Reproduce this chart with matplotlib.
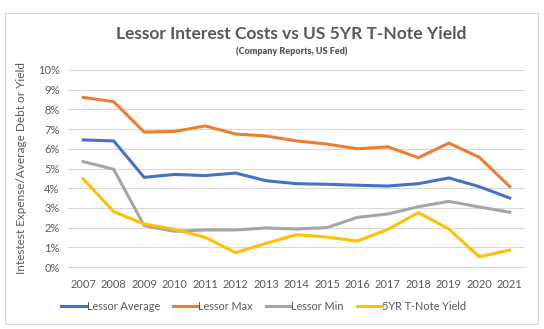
import matplotlib.pyplot as plt
from matplotlib.patches import Rectangle
from matplotlib.ticker import PercentFormatter

years = list(range(2007, 2022))
lessor_avg = [6.45, 6.40, 4.55, 4.70, 4.64, 4.77, 4.38, 4.23, 4.20, 4.15, 4.11, 4.23, 4.52, 4.08, 3.50]
lessor_max = [8.61, 8.39, 6.85, 6.88, 7.16, 6.75, 6.65, 6.40, 6.24, 6.00, 6.10, 5.55, 6.29, 5.57, 4.08]
lessor_min = [5.35, 4.96, 2.10, 1.81, 1.88, 1.88, 1.98, 1.93, 2.00, 2.52, 2.69, 3.06, 3.33, 3.05, 2.78]
tnote_5yr = [4.47, 2.81, 2.18, 1.91, 1.51, 0.73, 1.20, 1.64, 1.52, 1.32, 1.91, 2.76, 1.93, 0.52, 0.86]

plt.rcParams['font.family'] = ['Lato', 'DejaVu Sans']
text_color = '#595959'

fig = plt.figure(figsize=(5.44, 3.29), dpi=100)
# chart border like the Excel chart area
fig.patches.append(Rectangle((5 / 544, 1 - 324 / 329), 533 / 544, 311 / 329,
                             transform=fig.transFigure, fill=False,
                             edgecolor='#d9d9d9', linewidth=0.8))

ax = fig.add_axes([68 / 544, 1 - 267 / 329, 457 / 544, 197 / 329])
x = range(len(years))
ax.plot(x, lessor_avg, color='#4472C4', lw=2.2, label='Lessor Average')
ax.plot(x, lessor_max, color='#ED7D31', lw=2.2, label='Lessor Max')
ax.plot(x, lessor_min, color='#A5A5A5', lw=2.2, label='Lessor Min')
ax.plot(x, tnote_5yr, color='#FFC000', lw=2.2, label='5YR T-Note Yield')

ax.set_xlim(-0.5, len(years) - 0.5)
ax.set_ylim(0, 10)
ax.set_yticks(range(0, 11))
ax.yaxis.set_major_formatter(PercentFormatter(decimals=0))
ax.set_xticks(list(x))
ax.set_xticklabels(years)
ax.grid(axis='y', color='#d9d9d9', lw=0.8)
ax.set_axisbelow(True)
for s in ['top', 'right', 'left']:
    ax.spines[s].set_visible(False)
ax.spines['bottom'].set_color('#d9d9d9')
ax.tick_params(length=0, labelsize=8, colors=text_color, pad=6)
ax.tick_params(axis='x', pad=9)
ax.set_ylabel('Intestest Expense/Average Debt or Yield', fontsize=8.5, color=text_color, labelpad=8)

fig.text(0.536, 1 - 34 / 329, 'Lessor Interest Costs vs US 5YR T-Note Yield', ha='center', va='center',
         fontsize=12.5, fontweight='bold', color=text_color)
fig.text(0.536, 1 - 51 / 329, '(Company Reports, US Fed)', ha='center', va='center',
         fontsize=6.5, fontweight='heavy', color=text_color)

fig.legend(loc='center', bbox_to_anchor=(0.485, 1 - 306 / 329), ncol=4, frameon=False,
           fontsize=7.8, labelcolor=text_color, handlelength=2.3, handletextpad=0.05,
           columnspacing=1.2)

fig.savefig('out.png', dpi=100)
